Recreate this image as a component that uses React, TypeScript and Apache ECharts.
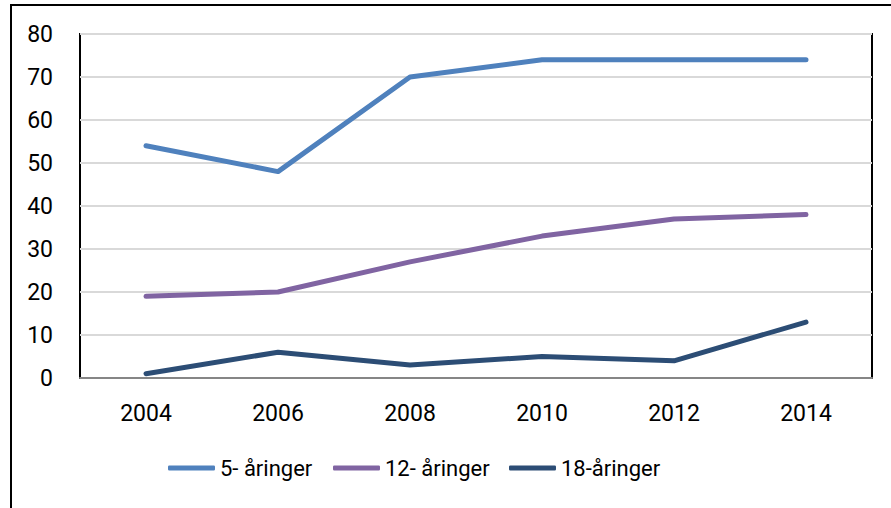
import React, { useEffect, useRef } from "react";
import * as echarts from "echarts";

const years = ["2004", "2006", "2008", "2010", "2012", "2014"];
const seriesNames = ["5- åringer", "12- åringer", "18-åringer"];
const age5 = [54, 48, 70, 74, 74, 74];
const age12 = [19, 20, 27, 33, 37, 38];
const age18 = [1, 6, 3, 5, 4, 13];
const colors = ["#4f81bd", "#8064a2", "#2c4d75"];
const seriesData = [age5, age12, age18];
const legendLefts = [168, 333, 509];

export default function App() {
  const ref = useRef<HTMLDivElement>(null);
  useEffect(() => {
    if (!ref.current) return;
    const chart = echarts.init(ref.current, null, { renderer: "svg" });
    const font = "Roboto";
    chart.setOption({
      animation: false,
      backgroundColor: "#ffffff",
      grid: {
        left: 80,
        top: 34,
        right: 19,
        bottom: 130,
        show: true,
        borderColor: "#000000",
        borderWidth: 2,
        backgroundColor: "transparent",
      },
      graphic: [
        {
          type: "rect",
          shape: { x: 11, y: 5, width: 900, height: 600 },
          style: { fill: "none", stroke: "#000000", lineWidth: 2 },
          z: 100,
        },
      ],
      legend: seriesNames.map((n, i) => ({
        data: [n],
        left: legendLefts[i],
        top: 457,
        padding: 0,
        icon: "roundRect",
        itemWidth: 47,
        itemHeight: 5,
        itemGap: 0,
        selectedMode: false,
        textStyle: { fontFamily: font, fontSize: 22, color: "#000000" },
      })),
      xAxis: {
        type: "category",
        data: years,
        boundaryGap: true,
        axisLine: { show: true, lineStyle: { color: "#868686", width: 2 } },
        axisTick: { show: false },
        axisLabel: { margin: 24, fontFamily: font, fontSize: 23, color: "#000000" },
        splitLine: { show: false },
      },
      yAxis: {
        type: "value",
        min: 0,
        max: 80,
        interval: 10,
        axisLine: { show: false },
        axisTick: { show: false },
        axisLabel: { margin: 27, fontFamily: font, fontSize: 23, color: "#000000" },
        splitLine: { show: true, lineStyle: { color: "#d9d9d9", width: 2 } },
      },
      series: seriesNames.map((n, i) => ({
        name: n,
        type: "line",
        data: seriesData[i],
        symbol: "none",
        color: colors[i],
        lineStyle: { width: 5, color: colors[i], cap: "round", join: "round" },
        z: 3 + i,
      })),
    });
    return () => chart.dispose();
  }, []);
  return (
    <div
      ref={ref}
      style={{ position: "fixed", left: 0, top: 0, width: 891, height: 508, background: "#fff" }}
    />
  );
}
